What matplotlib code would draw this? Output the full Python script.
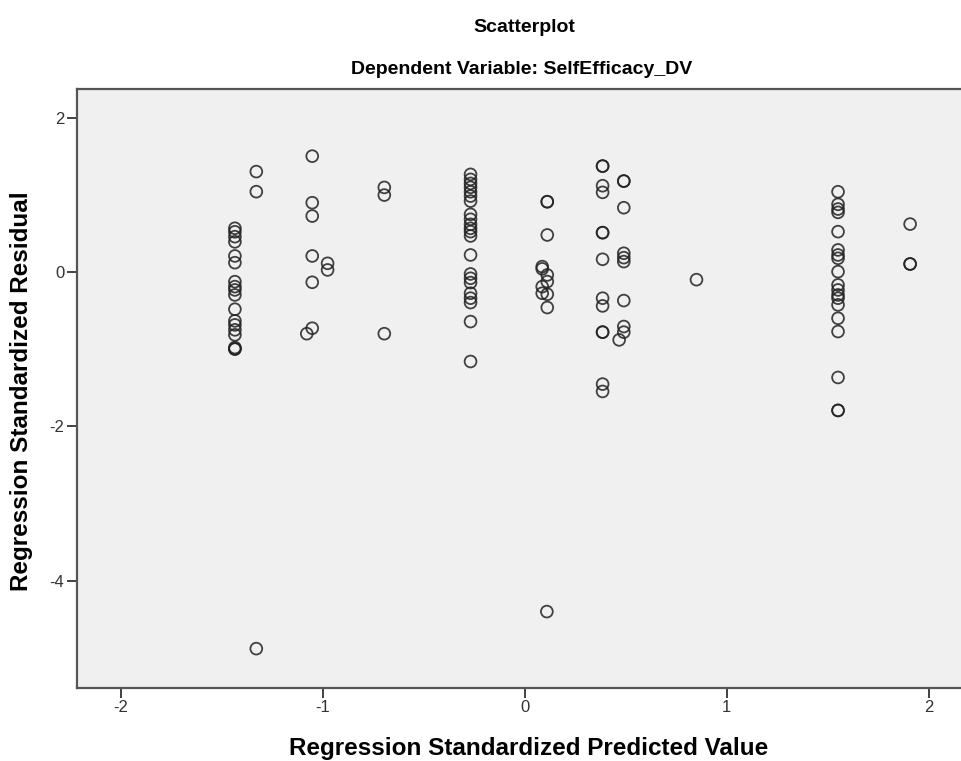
import numpy as np
import matplotlib
matplotlib.use("Agg")
import matplotlib.pyplot as plt

plt.rcParams['font.family'] = ['Liberation Sans', 'DejaVu Sans']

# valores (preditos padronizados, residuos padronizados)
pred = [
    -1.436, -1.436, -1.436, -1.436, -1.436, -1.436, -1.436, -1.436, -1.436,
    -1.436, -1.436, -1.436, -1.436, -1.436, -1.436, -1.436, -1.436, -1.436,
    -1.33, -1.33, -1.33,
    -1.053, -1.053, -1.053, -1.053, -1.053, -1.053, -1.08,
    -0.977, -0.977,
    -0.696, -0.696, -0.696,
    -0.269, -0.269, -0.269, -0.269, -0.269, -0.269, -0.269, -0.269, -0.269,
    -0.269, -0.269, -0.269, -0.269, -0.269, -0.269, -0.269, -0.269, -0.269,
    -0.269, -0.269, -0.269, -0.269,
    0.111, 0.111, 0.111, 0.111, 0.111, 0.111, 0.111, 0.109,
    0.086, 0.086, 0.086, 0.086,
    0.385, 0.385, 0.385, 0.385, 0.385, 0.385, 0.385, 0.385, 0.385, 0.385,
    0.385, 0.385, 0.385,
    0.490, 0.490, 0.490, 0.490, 0.490, 0.490, 0.490, 0.490, 0.490,
    0.467,
    0.85,
    1.551, 1.551, 1.551, 1.551, 1.551, 1.551, 1.551, 1.551, 1.551, 1.551,
    1.551, 1.551, 1.551, 1.551, 1.551, 1.551, 1.551, 1.551, 1.551,
    1.908, 1.908, 1.908,
]
resid = [
    0.566, 0.52, 0.457, 0.39, 0.207, 0.12, -0.126, -0.19, -0.233,
    -0.298, -0.483, -0.634, -0.686, -0.75, -0.815, -0.98, -0.996, -1.0,
    1.30, 1.04, -4.88,
    1.50, 0.897, 0.724, 0.207, -0.134, -0.729, -0.80,
    0.112, 0.026,
    1.095, 0.996, -0.80,
    1.264, 1.199, 1.147, 1.096, 1.039, 0.983, 0.918, 0.746, 0.682,
    0.617, 0.565, 0.522, 0.466, 0.220, -0.026, -0.082, -0.138, -0.276,
    -0.340, -0.397, -0.643, -1.160,
    0.91, 0.91, 0.479, -0.039, -0.125, -0.289, -0.461, -4.40,
    0.069, 0.04, -0.19, -0.276,
    1.371, 1.371, 1.117, 1.031, 0.509, 0.509, 0.164, -0.34, -0.44, -0.78,
    -0.78, -1.453, -1.548,
    1.177, 1.177, 0.832, 0.242, 0.185, 0.134, -0.371, -0.707, -0.78,
    -0.88,
    -0.10,
    1.039, 0.876, 0.815, 0.772, 0.522, 0.285, 0.22, 0.177, 0.004, -0.168,
    -0.233, -0.298, -0.34, -0.427, -0.6, -0.772, -1.367, -1.794, -1.794,
    0.62, 0.103, 0.103,
]
xticks = [-2, -1, 0, 1, 2]
yticks = [-4, -2, 0, 2]

fig = plt.figure(figsize=(9.61, 7.61), dpi=100)
ax = fig.add_axes([77 / 961, 1 - 688 / 761, 1 - 77 / 961, (688 - 89) / 761])
ax.set_facecolor('#F0F0F0')

ax.scatter(pred, resid, s=72, facecolors='none', edgecolors='#222222',
           linewidths=1.3, alpha=0.85, zorder=3)

ax.set_xlim(-2.218, 2.16)
ax.set_ylim(-5.39, 2.37)
ax.set_xticks(xticks)
ax.set_yticks(yticks)
ax.set_xticklabels([str(t) for t in xticks])
ax.set_yticklabels([str(t) for t in yticks])
ax.tick_params(direction='out', length=7, width=1.3, color='#333333',
               labelsize=12, labelcolor='#333333', pad=2)

for side in ['left', 'bottom', 'top']:
    ax.spines[side].set_color('#555555')
    ax.spines[side].set_linewidth(1.6)
ax.spines['right'].set_visible(False)

fig.text(524 / 961, 1 - 28 / 761, 'Scatterplot', ha='center', va='center',
         fontsize=14, fontweight='bold')
fig.text(522 / 961, 1 - 70 / 761, 'Dependent Variable: SelfEfficacy_DV',
         ha='center', va='center', fontsize=14, fontweight='bold')
fig.text(529 / 961, 1 - 748 / 761, 'Regression Standardized Predicted Value',
         ha='center', va='center', fontsize=17.5, fontweight='bold')
fig.text(22 / 961, 1 - 391 / 761, 'Regression Standardized Residual',
         ha='center', va='center', rotation=90, fontsize=17.5, fontweight='bold')

fig.savefig('out.png', dpi=100)
